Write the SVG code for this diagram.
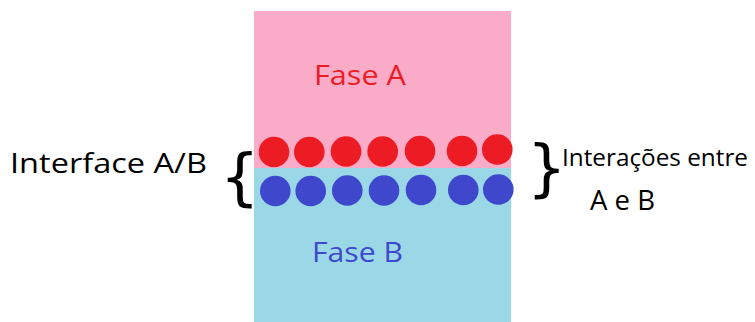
<svg xmlns="http://www.w3.org/2000/svg" width="755" height="322" viewBox="0 0 755 322">
<style>
.t{font-family:"Open Sans","Liberation Sans",sans-serif;font-size:27px}
.s{font-family:"Open Sans","Liberation Sans",sans-serif;font-size:24.5px}
.br{font-family:"DejaVu Sans",sans-serif;font-size:62px;fill:#000}
.r{fill:#ED1C24}.b{fill:#3F48CC}
</style>
<rect width="755" height="322" fill="#fff"/>
<g id="faseA"><rect x="254" y="11" width="257" height="157" fill="#F9ABC7"/><text class="t" x="314" y="85" fill="#ED1C24" textLength="92" lengthAdjust="spacingAndGlyphs">Fase A</text></g>
<g id="faseB"><rect x="254" y="168" width="257" height="154" fill="#9AD8E8"/><text class="t" x="312" y="262" fill="#3F48CC" textLength="91" lengthAdjust="spacingAndGlyphs">Fase B</text></g>
<g id="redRow">
<circle class="r" cx="274" cy="152" r="15.3"/><circle class="r" cx="309.3" cy="152" r="15.3"/><circle class="r" cx="346" cy="151.5" r="15.3"/><circle class="r" cx="382.7" cy="151.5" r="15.3"/><circle class="r" cx="420" cy="151" r="15.3"/><circle class="r" cx="462" cy="151" r="15.3"/><circle class="r" cx="497.3" cy="149.5" r="15.3"/>
</g>
<g id="blueRow">
<circle class="b" cx="275.3" cy="191" r="15.3"/><circle class="b" cx="310.7" cy="191" r="15.3"/><circle class="b" cx="347.3" cy="190.5" r="15.3"/><circle class="b" cx="384" cy="190.5" r="15.3"/><circle class="b" cx="421" cy="190" r="15.3"/><circle class="b" cx="463.3" cy="190" r="15.3"/><circle class="b" cx="498.3" cy="189.5" r="15.3"/>
</g>
<g id="interface"><text class="t" x="10" y="173" textLength="197" lengthAdjust="spacingAndGlyphs">Interface A/B</text><text class="br" x="220" y="198">{</text></g>
<g id="interacoes"><text class="br" x="527" y="189">}</text><text class="s" x="562" y="166" textLength="186" lengthAdjust="spacingAndGlyphs">Interações entre</text><text class="t" x="590" y="210" textLength="65" lengthAdjust="spacingAndGlyphs">A e B</text></g>
</svg>
